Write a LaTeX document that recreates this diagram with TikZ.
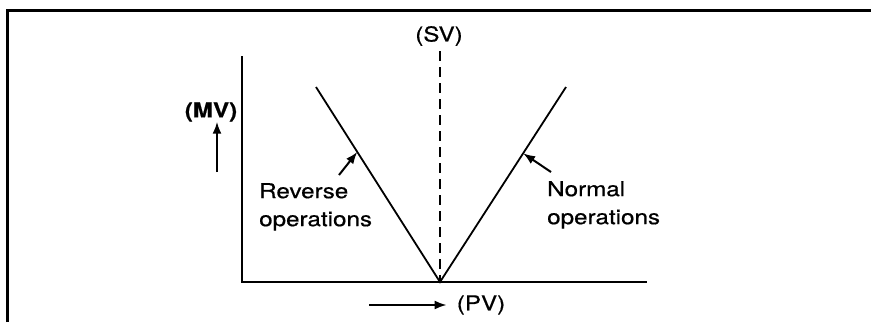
\documentclass[tikz,border=0pt]{standalone}
\usepackage{fontspec}
\setmainfont{TeX Gyre Heros}[FakeStretch=1.18,FakeBold=0.6]
\usetikzlibrary{arrows.meta,calc}

\begin{document}
\begin{tikzpicture}[x=1pt,y=-1pt,
frame/.style={line width=3pt},
axis/.style={line width=2.4pt},
vline/.style={line width=1.8pt},
setline/.style={line width=1.2pt,dash pattern=on 10pt off 6pt},
txt/.style={font=\fontsize{20.5}{28}\selectfont,inner sep=0pt,align=left},
pointer/.style={-{Latex[length=12pt,width=9pt]},line width=2pt}]
\useasboundingbox (0,0) rectangle (871,322);
\draw[frame] (7,322) -- (7,10) -- (871,10);
% axes and the V characteristic
\coordinate (orig) at (242,282);
\coordinate (ytop) at (242,56);
\coordinate (xend) at (647,282);
\coordinate (vtx) at (440,282);
\coordinate (ltop) at (316,87);
\coordinate (rtop) at (566,87);
\draw[axis] (ytop) -- (orig) -- (xend);
\node[txt] (sv) at (439,36) {(SV)};
\coordinate (svtop) at (440,51);
\draw[setline] (svtop) -- (vtx);
\draw[vline] (ltop) -- (vtx) -- (rtop);
\node[txt,font=\fontsize{20.5}{28}\selectfont\bfseries] (mv) at (211,112) {(MV)};
\coordinate (mvtail) at (217,172);
\draw[pointer] (mvtail) -- (mv.south -| mvtail);
\node[txt] (pv) at (481,305) {(PV)};
\coordinate (pvtail) at (369,305);
\draw[pointer] (pvtail) -- ($(pv.west)+(-10,0)$);
\node[txt,anchor=north west] (rev) at (259,183) {Reverse\\operations};
\node[txt,anchor=north west] (nor) at (547,181) {Normal\\operations};
\coordinate (revtail) at (339,175);
\coordinate (nortail) at (551,172);
\draw[pointer] (revtail) -- ($(vtx)!0.667!(ltop)$);
\draw[pointer] (nortail) -- ($(vtx)!0.66!(rtop)$);
\end{tikzpicture}
\end{document}
